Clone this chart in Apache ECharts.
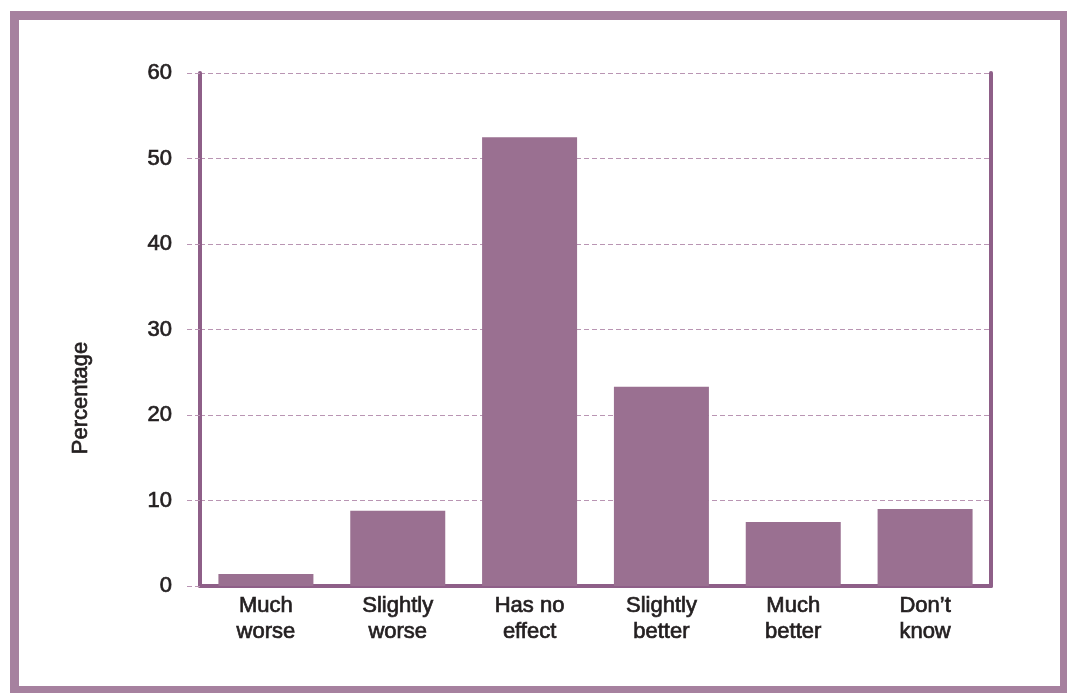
<!DOCTYPE html>
<html>
<head>
<meta charset="utf-8">
<script src="https://cdn.jsdelivr.net/npm/echarts@6/dist/echarts.min.js"></script>
<style>
  html, body { margin: 0; padding: 0; background: #ffffff; }
  #chart { width: 1067px; height: 693px; }
</style>
</head>
<body>
<div id="chart"></div>
<script>
// Survey responses: perceived effect, share of respondents (%)
const categories = ['Much\nworse', 'Slightly\nworse', 'Has no\neffect', 'Slightly\nbetter', 'Much\nbetter', 'Don\u2019t\nknow'];
const percentages = [1.4, 8.8, 52.5, 23.3, 7.5, 9.0];
const yTicks = [0, 10, 20, 30, 40, 50, 60];
const yAxisTitle = 'Percentage';

const FONT = '"Liberation Sans", Arial, Helvetica, sans-serif';
const TEXT = '#231f20';
const BAR = '#9a7091';
const AXIS = '#8e5f88';
const GRIDLINE = '#b995b3';
const FRAME = '#a6819f';
// slight outline in the text colour gives the labels a medium weight
const TEXT_WEIGHT = { textBorderColor: TEXT, textBorderWidth: 0.7 };

const chart = echarts.init(document.getElementById('chart'), null, { renderer: 'canvas' });

const yMin = yTicks[0];
const yMax = yTicks[yTicks.length - 1];
const yStep = yTicks[1] - yTicks[0];

chart.setOption({
  backgroundColor: '#ffffff',
  animation: false,
  graphic: [{
    type: 'rect',
    shape: { x: 14.5, y: 15.5, width: 1050, height: 675 },
    style: { fill: 'none', stroke: FRAME, lineWidth: 9 },
    silent: true,
    z: 100
  }, {
    // vertical axis title
    type: 'text',
    x: 81,
    y: 398,
    rotation: Math.PI / 2,
    style: {
      text: yAxisTitle,
      fill: TEXT,
      stroke: TEXT,
      lineWidth: 0.7,
      font: '22px ' + FONT,
      align: 'center',
      verticalAlign: 'middle'
    },
    silent: true
  }],
  grid: { left: 200, right: 76, top: 73, bottom: 107, containLabel: false },
  xAxis: {
    type: 'category',
    data: categories,
    axisLine: { show: true, lineStyle: { color: AXIS, width: 4 } },
    axisTick: { show: false },
    axisLabel: Object.assign({
      color: TEXT, fontFamily: FONT, fontSize: 22, lineHeight: 26,
      margin: 7, interval: 0, align: 'center'
    }, TEXT_WEIGHT),
    splitLine: { show: false }
  },
  yAxis: [{
    type: 'value',
    min: yMin, max: yMax, interval: yStep,
    axisLine: { show: true, lineStyle: { color: AXIS, width: 4 } },
    axisTick: { show: true, length: 15, lineStyle: { color: GRIDLINE, width: 1, type: [5, 3] } },
    axisLabel: Object.assign({ color: TEXT, fontFamily: FONT, fontSize: 22, margin: 28 }, TEXT_WEIGHT),
    splitLine: { show: true, lineStyle: { color: GRIDLINE, width: 1, type: [5, 3] } }
  }, {
    type: 'value',
    position: 'right',
    min: yMin, max: yMax, interval: yStep,
    axisLine: { show: true, lineStyle: { color: AXIS, width: 4 } },
    axisTick: { show: false },
    axisLabel: { show: false },
    splitLine: { show: false }
  }],
  series: [{
    type: 'bar',
    yAxisIndex: 0,
    data: percentages,
    barWidth: 95,
    itemStyle: { color: BAR },
    z: 1
  }]
});
</script>
</body>
</html>
